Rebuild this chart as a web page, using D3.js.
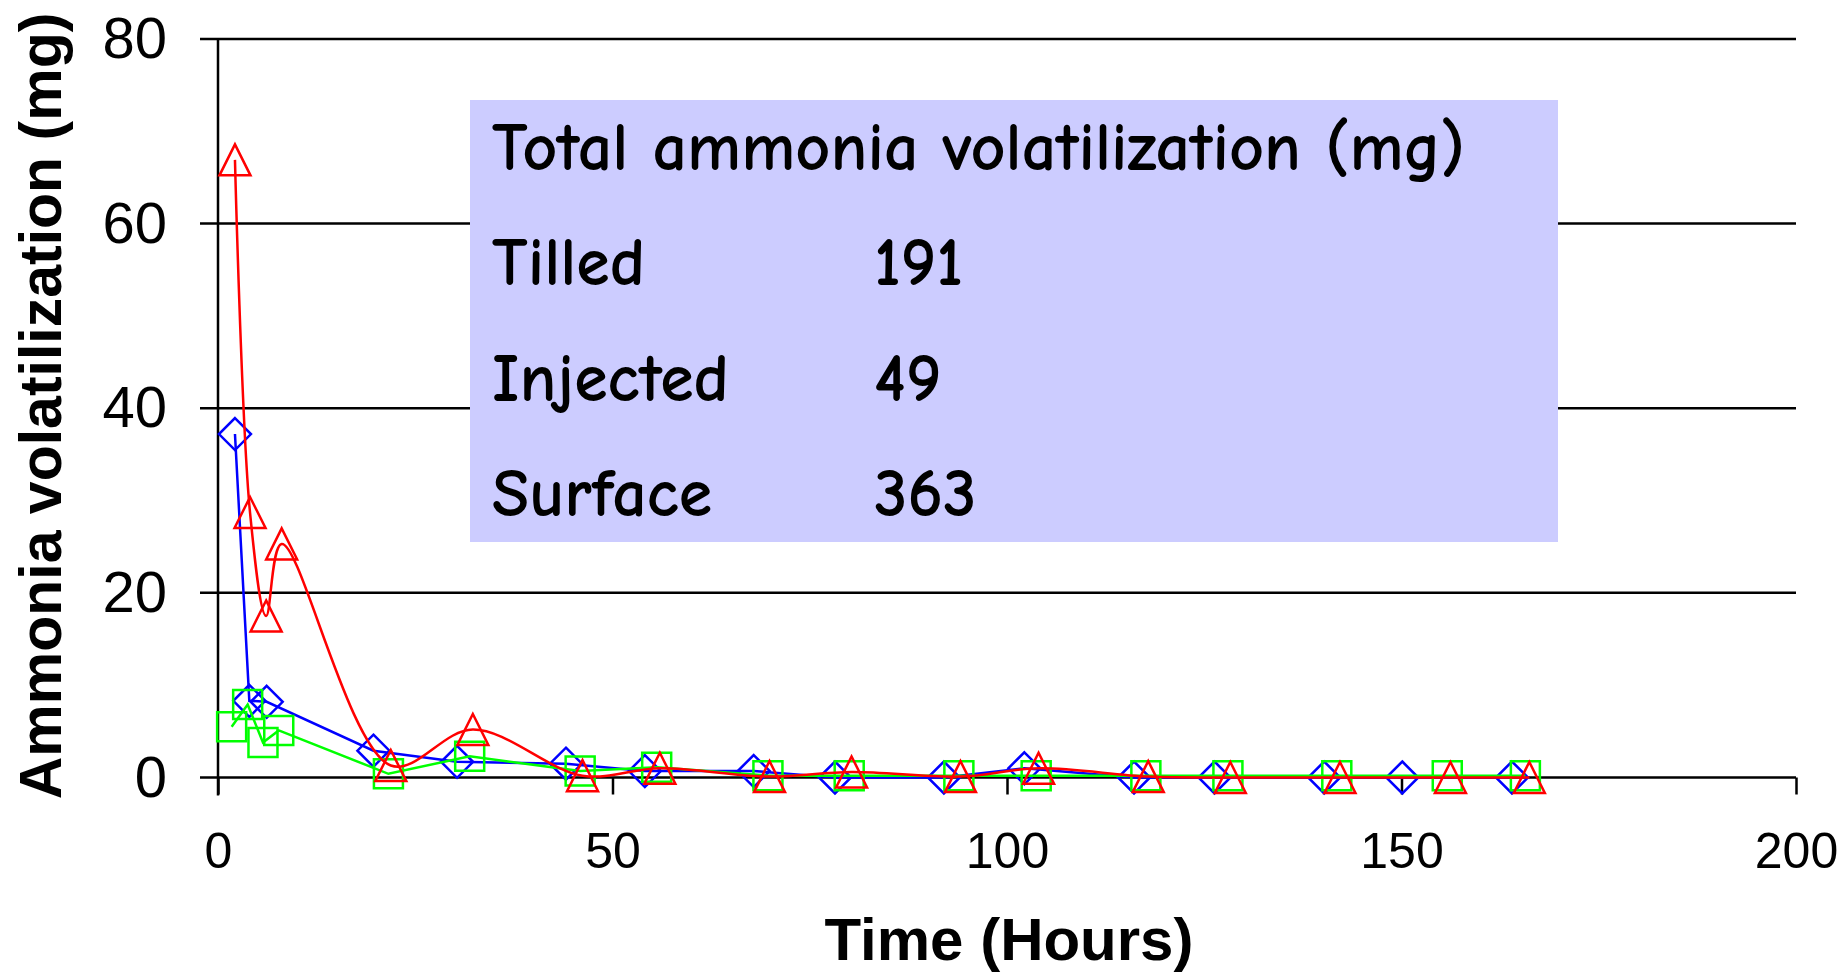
<!DOCTYPE html>
<html>
<head>
<meta charset="utf-8">
<script src="https://cdn.jsdelivr.net/npm/d3@7"></script>
<style>
  body { margin: 0; background: #fff; }
  svg { display: block; }
</style>
</head>
<body>
<div id="chart"></div>
<script>
// Data (hours, mg)
const tilledHours = [2.15, 3.97, 6.17, 19.7, 30.3, 44.1, 54.1, 67.9, 78.2, 92.0, 102.2, 116.1, 126.3, 140.2, 150.1, 164.0];
const tilledNH3   = [37.2, 8.3, 8.2, 2.9, 1.7, 1.5, 0.7, 0.7, 0, 0, 1.0, 0, 0, 0, 0, 0];

const injectedHours = [1.73, 3.76, 5.7, 7.7, 21.6, 31.9, 45.9, 55.6, 69.7, 80.0, 93.9, 103.7, 117.6, 128.0, 141.8, 155.8, 165.7];
const injectedNH3   = [5.5, 7.9, 3.8, 5.1, 0.4, 2.3, 0.7, 1.1, 0.2, 0.2, 0.2, 0.2, 0.2, 0.2, 0.2, 0.2, 0.2];

const surfaceHours = [2.15, 4.06, 6.1, 8.07, 21.9, 32.3, 46.2, 56.0, 69.9, 80.3, 94.1, 104.0, 117.9, 128.3, 142.2, 156.2, 166.2];
const surfaceNH3   = [66.9, 28.7, 17.5, 25.3, 1.3, 5.2, 0.2, 1.0, 0.1, 0.6, 0.1, 1.0, 0.1, 0, 0, 0, 0];

const xTicks = [0, 50, 100, 150, 200];
const yTicks = [0, 20, 40, 60, 80];

const totalTitle = "Total ammonia volatilization (mg)";
const totalLabels = ["Tilled", "Injected", "Surface"];
const totalValues = [191, 49, 363];

const width = 1847, height = 973;

const svg = d3.select("#chart").append("svg")
    .attr("width", width)
    .attr("height", height);

const x = d3.scaleLinear().domain([0, 200]).range([218, 1796]);
const y = d3.scaleLinear().domain([0, 80]).range([777.5, 38.9]);

// Gridlines (also serve as the left tick marks and the x axis line)
svg.append("g")
    .selectAll("line")
    .data(yTicks)
    .join("line")
    .attr("x1", 200)
    .attr("x2", x(200))
    .attr("y1", d => y(d))
    .attr("y2", d => y(d))
    .attr("stroke", "#000")
    .attr("stroke-width", 2.5);

// Y axis
const yAxis = svg.append("g")
    .attr("transform", `translate(${x(0)},0)`)
    .call(d3.axisLeft(y).tickValues(yTicks).tickSize(18).tickPadding(33).tickSizeOuter(0));
yAxis.select(".domain").remove();
yAxis.selectAll("line").remove();
yAxis.selectAll("text")
    .attr("font-family", "'Liberation Sans', Arial, sans-serif")
    .attr("font-size", 58)
    .attr("fill", "#000");
svg.append("line")
    .attr("x1", x(0)).attr("x2", x(0))
    .attr("y1", y(80)).attr("y2", y(0) + 18)
    .attr("stroke", "#000")
    .attr("stroke-width", 2.5);

// X axis
const xAxis = svg.append("g")
    .attr("transform", `translate(0,${y(0)})`)
    .call(d3.axisBottom(x).tickValues(xTicks).tickSize(17).tickPadding(38).tickSizeOuter(0));
xAxis.select(".domain").remove();
xAxis.selectAll("line").attr("stroke-width", 2.5);
xAxis.selectAll("text")
    .attr("font-family", "'Liberation Sans', Arial, sans-serif")
    .attr("font-size", 50)
    .attr("fill", "#000");

// Axis titles
svg.append("text")
    .attr("x", 1009)
    .attr("y", 960)
    .attr("text-anchor", "middle")
    .attr("font-family", "'Liberation Sans', Arial, sans-serif")
    .attr("font-weight", "bold")
    .attr("font-size", 60)
    .text("Time (Hours)");

svg.append("text")
    .attr("transform", "translate(61,406) rotate(-90)")
    .attr("text-anchor", "middle")
    .attr("font-family", "'Liberation Sans', Arial, sans-serif")
    .attr("font-weight", "bold")
    .attr("font-size", 59)
    .text("Ammonia volatilization (mg)");

// Totals box
const box = svg.append("g");
box.append("rect")
    .attr("x", 470).attr("y", 100)
    .attr("width", 1088).attr("height", 442)
    .attr("fill", "#ccccff");
const boxFont = "'Comic Sans MS', 'Comic Neue', 'Noto Sans', sans-serif";
box.append("text")
    .attr("x", 492).attr("y", 170)
    .attr("font-family", boxFont)
    .attr("font-weight", "bold")
    .attr("font-size", 68)
    .text(totalTitle);
const rowY = [285, 401, 516];
box.selectAll("text.lab")
    .data(totalLabels)
    .join("text")
    .attr("class", "lab")
    .attr("x", 492)
    .attr("y", (d, i) => rowY[i])
    .attr("font-family", boxFont)
    .attr("font-weight", "bold")
    .attr("font-size", 68)
    .text(d => d);
box.selectAll("text.val")
    .data(totalValues)
    .join("text")
    .attr("class", "val")
    .attr("x", 874)
    .attr("y", (d, i) => rowY[i])
    .attr("font-family", boxFont)
    .attr("font-weight", "bold")
    .attr("font-size", 68)
    .text(d => d);

// Marker shapes (half size r)
function diamond(r) {
    const p = d3.path();
    p.moveTo(0, -r); p.lineTo(r, 0); p.lineTo(0, r); p.lineTo(-r, 0); p.closePath();
    return p.toString();
}
function square(r) {
    const p = d3.path();
    p.rect(-r, -r, 2 * r, 2 * r);
    return p.toString();
}
function triangle(r) {
    const p = d3.path();
    p.moveTo(0, -r); p.lineTo(r, r); p.lineTo(-r, r); p.closePath();
    return p.toString();
}

const series = [
    { hours: tilledHours, vals: tilledNH3, color: "#0000ff", shape: diamond(16), curve: d3.curveLinear },
    { hours: injectedHours, vals: injectedNH3, color: "#00ff00", shape: square(14.5), curve: d3.curveLinear },
    { hours: surfaceHours, vals: surfaceNH3, color: "#ff0000", shape: triangle(15.5), curve: d3.curveCatmullRom.alpha(0.5) }
];

series.forEach(s => {
    const pts = s.hours.map((h, i) => [h, s.vals[i]]);
    const line = d3.line()
        .x(d => x(d[0]))
        .y(d => y(d[1]))
        .curve(s.curve);
    const g = svg.append("g");
    g.append("path")
        .attr("d", line(pts))
        .attr("fill", "none")
        .attr("stroke", s.color)
        .attr("stroke-width", 2.5);
    g.selectAll("path.mark")
        .data(pts)
        .join("path")
        .attr("class", "mark")
        .attr("transform", d => `translate(${x(d[0])},${y(d[1])})`)
        .attr("d", s.shape)
        .attr("fill", "none")
        .attr("stroke", s.color)
        .attr("stroke-width", 2.5);
});
</script>
</body>
</html>
